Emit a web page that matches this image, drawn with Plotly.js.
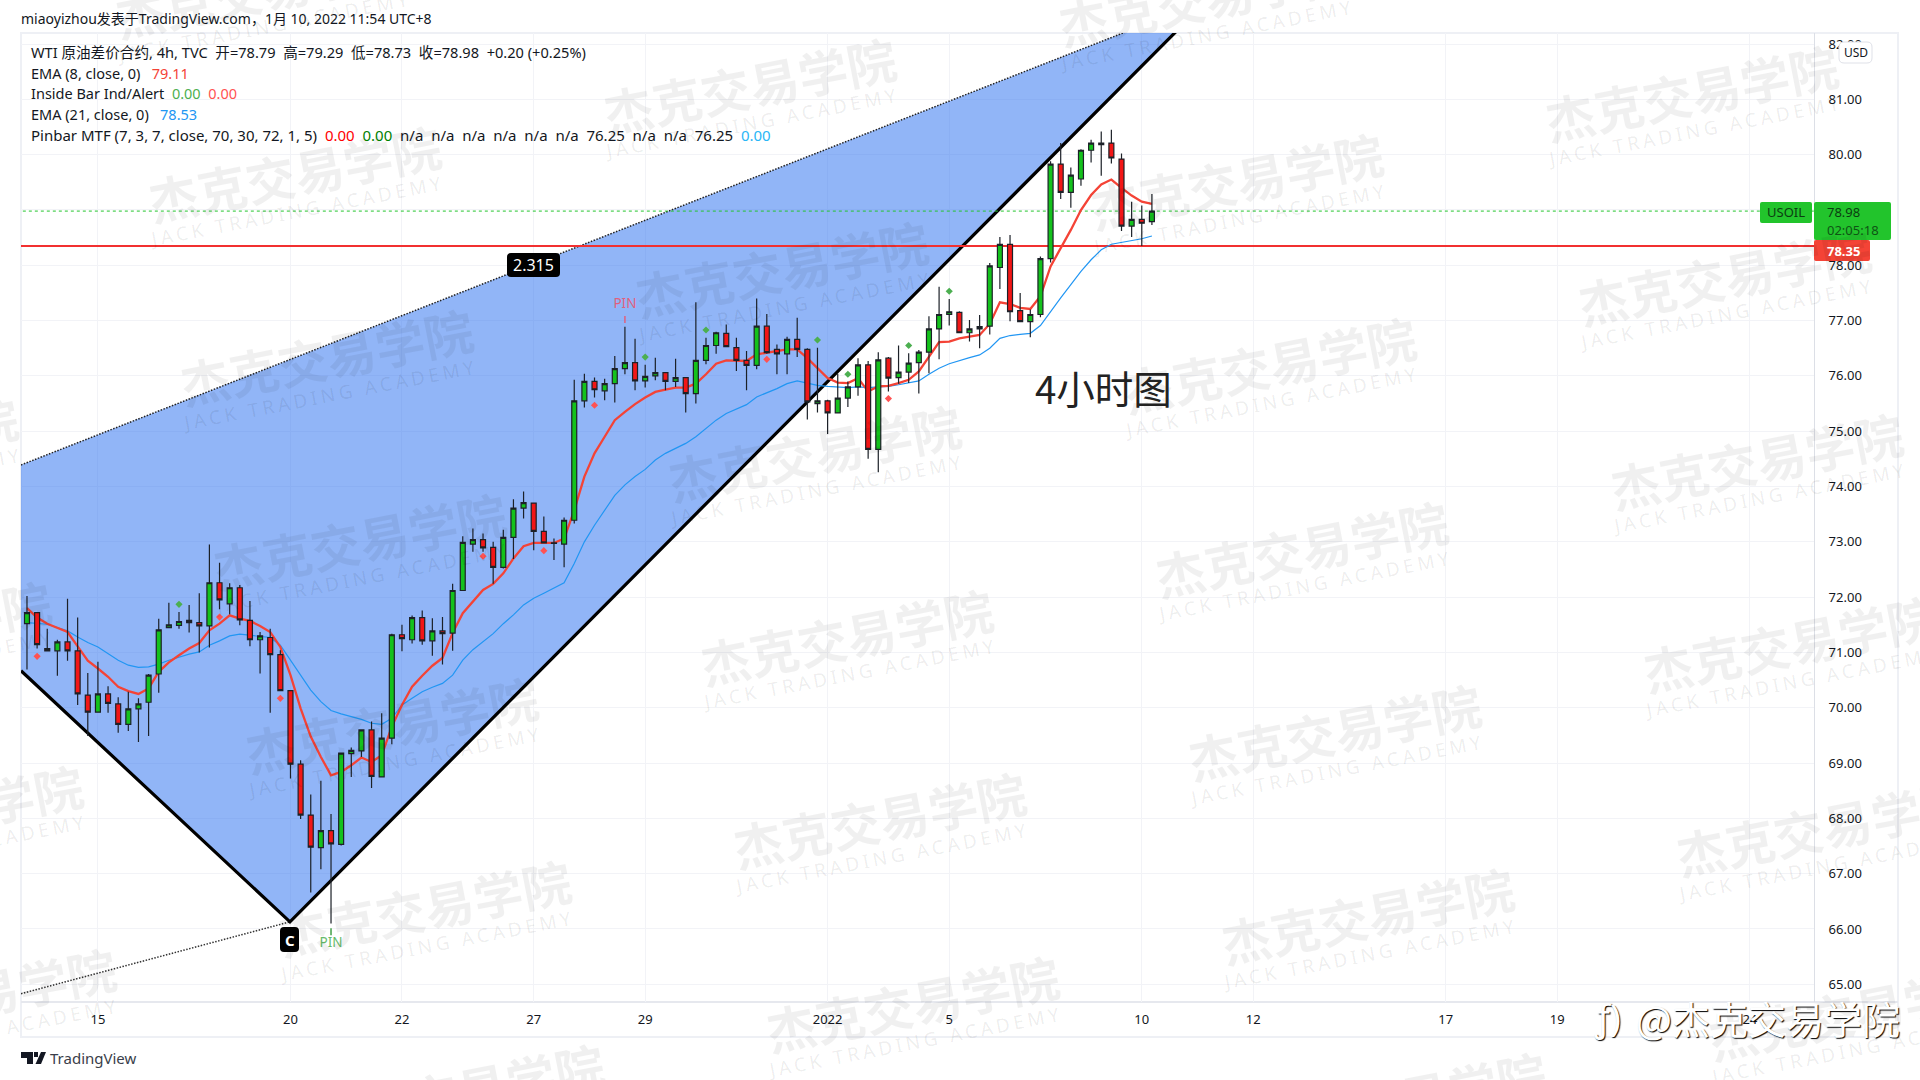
<!DOCTYPE html>
<html><head><meta charset="utf-8">
<script src="https://cdn.plot.ly/plotly-3.0.1.min.js"></script>
<style>html,body{margin:0;padding:0;background:#fff}#c{width:1920px;height:1080px}</style>
</head><body><div id="c"></div>
<script>
const open_=[71.52,71.72,71.07,71.03,71.19,71.03,70.23,69.92,70.25,70.07,69.70,69.98,70.10,70.61,71.45,71.49,71.58,71.54,71.48,72.26,71.88,72.17,71.58,71.23,71.27,70.96,70.31,68.98,68.06,67.47,67.78,67.53,69.17,69.22,69.60,68.75,69.45,71.32,71.23,71.63,71.21,71.39,71.35,72.12,72.96,73.04,72.90,72.54,73.08,73.61,73.70,73.19,72.98,72.96,73.39,75.55,75.90,75.73,75.86,76.13,76.24,75.91,76.00,76.06,75.90,75.97,75.68,76.28,76.55,76.77,76.51,76.28,76.19,76.90,76.48,76.40,76.66,76.48,75.50,75.55,75.33,75.60,75.80,76.20,74.67,76.32,75.97,76.07,76.24,76.43,76.85,77.11,77.15,76.78,76.85,76.90,77.96,78.38,77.18,76.98,77.11,78.12,79.83,79.32,79.56,80.08,80.21,80.21,79.92,78.71,78.83,78.79];
const high=[72.02,71.73,71.43,71.23,71.97,71.63,70.63,70.83,70.39,70.19,70.29,70.17,70.61,71.61,71.90,71.73,71.86,72.07,72.95,72.62,72.25,72.22,71.93,71.37,71.43,71.04,70.32,69.05,68.43,68.68,68.08,69.19,69.28,69.61,69.75,69.90,71.34,71.50,71.67,71.76,71.62,71.64,72.24,73.10,73.24,73.15,73.00,73.22,73.77,73.91,73.71,73.46,73.06,73.44,75.93,76.04,75.97,75.95,76.36,76.89,76.67,76.20,76.33,76.07,76.31,75.98,77.33,76.69,76.80,76.93,76.69,76.45,77.40,77.12,76.57,76.71,77.05,76.50,76.51,75.57,76.04,75.90,76.32,76.27,76.43,76.34,76.55,76.41,76.47,77.08,77.61,77.39,77.17,77.01,77.10,78.04,78.51,78.55,77.50,77.20,78.16,79.88,80.21,79.77,80.10,80.27,80.42,80.45,80.02,79.15,79.08,79.29];
const low=[70.69,71.07,71.02,70.58,70.85,70.05,69.49,69.91,69.91,69.55,69.58,69.38,69.49,70.27,71.44,71.43,71.36,71.00,71.09,71.78,71.69,71.49,71.11,70.62,69.91,70.31,68.72,67.99,66.66,67.08,66.10,67.51,68.75,69.11,68.55,68.74,69.34,71.02,71.16,71.14,70.94,70.78,71.03,72.12,72.82,72.82,72.24,72.52,72.69,73.42,72.85,72.97,72.67,72.54,73.33,75.43,75.61,75.56,75.52,76.03,75.74,75.79,75.92,75.74,75.80,75.34,75.50,76.21,76.40,76.52,76.09,75.74,76.12,76.40,76.03,76.03,76.34,75.21,75.34,74.95,75.33,75.44,75.64,74.50,74.26,75.72,75.86,75.87,75.68,76.05,76.30,76.91,76.77,76.62,76.50,76.75,77.57,76.99,76.97,76.70,77.06,78.05,79.20,79.04,79.44,79.86,79.62,79.84,78.62,78.51,78.35,78.73];
const close_=[71.72,71.14,71.03,71.19,71.03,70.25,69.92,70.25,70.08,69.70,69.98,70.07,70.59,71.41,71.50,71.56,71.54,71.48,72.26,71.95,72.17,71.59,71.23,71.30,70.96,70.31,68.98,68.06,67.48,67.78,67.54,69.18,69.23,69.60,68.76,69.45,71.32,71.25,71.63,71.21,71.39,71.34,72.12,72.99,73.04,72.89,72.54,73.08,73.61,73.71,73.19,72.98,72.97,73.39,75.55,75.90,75.75,75.86,76.13,76.24,75.91,75.99,76.06,75.90,75.97,75.68,76.28,76.55,76.78,76.53,76.28,76.19,76.90,76.42,76.40,76.66,76.48,75.53,75.55,75.33,75.60,75.80,76.20,74.67,76.29,75.96,76.07,76.23,76.43,76.85,77.11,77.16,76.78,76.85,76.89,77.99,78.38,77.16,76.98,77.11,78.12,79.83,79.32,79.63,80.08,80.21,80.18,79.94,78.71,78.83,78.76,78.98];
const ema8=[71.80,71.63,71.52,71.45,71.37,71.11,70.85,70.71,70.56,70.38,70.30,70.25,70.35,70.65,70.82,70.95,71.07,71.17,71.40,71.52,71.67,71.61,71.57,71.48,71.37,71.10,70.59,69.99,69.48,69.11,68.78,68.84,68.96,69.10,69.02,69.14,69.66,70.05,70.38,70.58,70.76,70.90,71.35,71.71,71.92,72.13,72.24,72.43,72.70,72.92,72.98,72.98,72.98,73.06,73.57,74.18,74.60,74.90,75.20,75.35,75.49,75.61,75.71,75.75,75.79,75.79,75.86,76.03,76.22,76.28,76.28,76.27,76.39,76.42,76.46,76.48,76.48,76.32,76.14,75.96,75.88,75.87,75.96,75.72,75.81,75.82,75.87,75.93,76.08,76.35,76.61,76.62,76.68,76.71,76.74,76.94,77.33,77.30,77.23,77.21,77.44,77.98,78.31,78.64,79.00,79.27,79.46,79.55,79.40,79.26,79.15,79.11];
const ema21=[71.54,71.52,71.51,71.45,71.39,71.28,71.18,71.10,70.98,70.86,70.77,70.73,70.74,70.79,70.86,70.92,70.97,71.01,71.13,71.21,71.30,71.33,71.31,71.30,71.27,71.13,70.86,70.59,70.32,70.11,69.95,69.89,69.84,69.79,69.72,69.70,69.81,70.05,70.17,70.29,70.37,70.44,70.59,70.86,71.05,71.19,71.34,71.52,71.68,71.86,71.98,72.07,72.16,72.26,72.61,73.00,73.30,73.57,73.84,74.03,74.18,74.31,74.48,74.60,74.69,74.78,74.90,75.05,75.20,75.32,75.40,75.48,75.62,75.69,75.77,75.86,75.91,75.87,75.83,75.81,75.80,75.79,75.80,75.79,75.80,75.81,75.84,75.87,75.91,76.03,76.14,76.22,76.28,76.33,76.38,76.50,76.68,76.73,76.75,76.77,76.91,77.17,77.41,77.65,77.89,78.10,78.28,78.38,78.41,78.44,78.48,78.53];
const barIdx=close_.map((_,i)=>i);
const tickIdx=[7,26,37,50,61,79,91,110,121,140,151,170];
const tickText=['15','20','22','27','29','2022','5','10','12','17','19','24'];
const priceTicks=[65,66,67,68,69,70,71,72,73,74,75,76,77,78,79,80,81,82];
const redDotX=[1,19,25,45,51,56,73,85];
const redDotY=[70.93,71.64,70.17,72.74,72.84,75.47,76.30,75.59];
const greenDotX=[15,61,67,78,81,87,91];
const greenDotY=[71.87,76.34,76.83,76.65,76.03,76.55,77.53];
const patternX=[-0.59,25.95,116.5,-0.59];
const patternY=[70.67,66.13,82.80,74.39];
const dottedX=[-0.59,25.95];
const dottedY=[64.83,66.13];
const lastPrice=78.98, supportPrice=78.35;
const pinUpX=[59], pinUpY=[77.02], pinUpLabelY=[77.28];
const pinDownX=[30], pinDownY=[65.95], pinDownLabelY=[65.73];

const W=1920,H=1080,L=21,R=1814,T=33,B=1002;
const XRANGE=[-0.59,176.33], YRANGE=[64.68,82.20];
const fx=p=>(p-L)/(R-L), fy=p=>(B-p)/(B-T);
const FONT='"Noto Sans","Noto Sans CJK SC",sans-serif';
const CJK='"Noto Sans CJK SC","Noto Sans",sans-serif';
const DARK='#131722';
const WM='rgba(0,0,0,0.058)';
const WM2='rgba(0,0,0,0.08)';
const sp=n=>'\u00a0'.repeat(n);
function ann(px,py,text,size,color,extra){
  return Object.assign({xref:'paper',yref:'paper',x:fx(px),y:fy(py),text:text,showarrow:false,xanchor:'left',yanchor:'middle',align:'left',
    font:{family:FONT,size:size,color:color}},extra||{});
}
function rr(x0,y0,x1,y1,r,color,line){
  const X=fx,Y=fy;
  const d=`M ${X(x0+r)} ${Y(y0)} L ${X(x1-r)} ${Y(y0)} Q ${X(x1)} ${Y(y0)} ${X(x1)} ${Y(y0+r)} L ${X(x1)} ${Y(y1-r)} Q ${X(x1)} ${Y(y1)} ${X(x1-r)} ${Y(y1)} L ${X(x0+r)} ${Y(y1)} Q ${X(x0)} ${Y(y1)} ${X(x0)} ${Y(y1-r)} L ${X(x0)} ${Y(y0+r)} Q ${X(x0)} ${Y(y0)} ${X(x0+r)} ${Y(y0)} Z`;
  return {type:'path',xref:'paper',yref:'paper',path:d,fillcolor:color,line:line||{width:0},layer:'above'};
}
function poly(pts,color){
  const d=pts.map((p,i)=>(i?'L ':'M ')+fx(p[0])+' '+fy(p[1])).join(' ')+' Z';
  return {type:'path',xref:'paper',yref:'paper',path:d,fillcolor:color,line:{width:0},layer:'above'};
}
function frame(x0,y0,x1,y1,c,w){
  return {type:'rect',xref:'paper',yref:'paper',x0:fx(x0),x1:fx(x1),y0:fy(y1),y1:fy(y0),line:{color:c,width:w},fillcolor:'rgba(0,0,0,0)',layer:'below'};
}

const traces=[
 {type:'scatter',mode:'lines',x:patternX,y:patternY,fill:'toself',fillcolor:'rgba(36,107,240,0.5)',line:{width:0},hoverinfo:'skip'},
 {type:'scatter',mode:'lines',x:[patternX[3],patternX[2]],y:[patternY[3],patternY[2]],line:{color:'#222',width:1.5,dash:'1.5px,1.5px'},hoverinfo:'skip'},
 {type:'scatter',mode:'lines',x:dottedX,y:dottedY,line:{color:'#333',width:1.5,dash:'1.5px,1.5px'},hoverinfo:'skip'},
 {type:'scatter',mode:'lines',x:[patternX[0],patternX[1],patternX[2]],y:[patternY[0],patternY[1],patternY[2]],line:{color:'#000',width:3.2},hoverinfo:'skip'},
 {type:'scatter',mode:'lines',x:[-1,177],y:[lastPrice,lastPrice],line:{color:'#22c42c',width:1,dash:'dot'},hoverinfo:'skip'},
 {type:'scatter',mode:'lines',x:[-1,177],y:[supportPrice,supportPrice],line:{color:'#f23030',width:2},hoverinfo:'skip'},
 {type:'scatter',mode:'lines',x:barIdx,y:ema21,line:{color:'#2196f3',width:1.2},hoverinfo:'skip'},
 {type:'scatter',mode:'lines',x:barIdx,y:ema8,line:{color:'#f44336',width:2.3},hoverinfo:'skip'},
 {type:'scatter',mode:'markers',x:redDotX,y:redDotY,marker:{symbol:'diamond',size:5.5,color:'#ff5252'},hoverinfo:'skip'},
 {type:'scatter',mode:'markers',x:greenDotX,y:greenDotY,marker:{symbol:'diamond',size:5.5,color:'#4caf50'},hoverinfo:'skip'},
 {type:'scatter',mode:'markers',x:pinUpX,y:pinUpY,marker:{symbol:'line-ns',size:5,line:{color:'#e0607e',width:1.5}},hoverinfo:'skip'},
 {type:'scatter',mode:'text',x:pinUpX,y:pinUpLabelY,text:['PIN'],textposition:'middle center',textfont:{family:FONT,size:13.5,color:'#e0607e'},hoverinfo:'skip'},
 {type:'scatter',mode:'markers',x:pinDownX,y:pinDownY,marker:{symbol:'line-ns',size:5,line:{color:'#43a047',width:1.5}},hoverinfo:'skip'},
 {type:'scatter',mode:'text',x:pinDownX,y:pinDownLabelY,text:['PIN'],textposition:'middle center',textfont:{family:FONT,size:13.5,color:'#66bb6a'},hoverinfo:'skip'},
 {type:'candlestick',xaxis:'x2',yaxis:'y2',x:barIdx,open:open_,high:high,low:low,close:close_,whiskerwidth:0,
  increasing:{line:{color:'#1c2128',width:1.2},fillcolor:'#14c21c'},
  decreasing:{line:{color:'#1c2128',width:1.2},fillcolor:'#f21616'},hoverinfo:'skip'}
];

const annotations=[];
for(let m=-3;m<=3;m++)for(let n=-2;n<=6;n++){
  const cx=749+455*m+32.6*n, cy=84-88*m+183.7*n;
  if(cx<-180||cx>2100||cy<-60||cy>1140)continue;
  annotations.push(ann(cx,cy,'<b>杰克交易学院</b>',49.5,WM,{xanchor:'center',textangle:-11,font:{family:CJK,size:49.5,color:WM}}));
  annotations.push(ann(cx+3,cy+39,'<span style="letter-spacing:3.8px">JACK TRADING ACADEMY</span>',19,WM2,{xanchor:'center',textangle:-11}));
}
annotations.push(ann(19,18,'miaoyizhou发表于TradingView.com，1月 10, 2022 11:54 UTC+8',14,DARK));
const c=(t,col)=>`<span style="color:${col}">${t}</span>`;
annotations.push(ann(29,52,['WTI 原油差价合约, 4h, TVC','开=78.79','高=79.29','低=78.73','收=78.98','+0.20 (+0.25%)'].join(sp(2)),14.6,DARK));
annotations.push(ann(29,73,'EMA (8, close, 0)'+sp(3)+c('79.11','#f44336'),14.5,DARK));
annotations.push(ann(29,93,'Inside Bar Ind/Alert'+sp(2)+c('0.00','#4caf50')+sp(2)+c('0.00','#ff5252'),14.5,DARK));
annotations.push(ann(29,114,'EMA (21, close, 0)'+sp(3)+c('78.53','#2196f3'),14.5,DARK));
annotations.push(ann(29,135,['Pinbar MTF (7, 3, 7, close, 70, 30, 72, 1, 5)',c('0.00','#ff0000'),c('0.00','#008000'),'n/a','n/a','n/a','n/a','n/a','n/a','76.25','n/a','n/a','76.25',c('0.00','#29b6f6')].join(sp(2)),15,DARK));
annotations.push(ann(533.5,265,'2.315',16,'#fff',{xanchor:'center'}));
annotations.push(ann(289.5,939.5,'<b>C</b>',15,'#fff',{xanchor:'center'}));
annotations.push(ann(1033,387,'4小时图',38.5,'#222',{font:{family:CJK,size:38.5,color:'#222'}}));
annotations.push(ann(1786,212.5,'USOIL',13,'#0b3d10',{xanchor:'center'}));
annotations.push(ann(1825,212,'78.98',13,'#0b3d10'));
annotations.push(ann(1825,230,'02:05:18',13,'#0f5415'));
annotations.push(ann(1825,250.5,'<b>78.35</b>',13,'#fff'));
annotations.push(ann(1855.5,52.5,'USD',12,DARK,{xanchor:'center'}));
annotations.push(ann(48,1058,'TradingView',15,'#3a3e4a'));
annotations.push(ann(1592,1018,'ƒ)',36,'#fff',{font:{family:FONT,size:36,color:'#fff',shadow:'1px 1px 1px #000'}}));
annotations.push(ann(1634,1018,'@杰克交易学院',38,'#fff',{font:{family:CJK,size:38,color:'#fff',shadow:'1px 1px 1px #000'}}));

const shapes=[
 frame(L,T,1898,1037,'#eef0f5',2),
 {type:'line',xref:'paper',yref:'paper',x0:fx(21),x1:fx(1898),y0:0,y1:0,line:{color:'#e6e8ee',width:2},layer:'below'},
 rr(507,253,560,277,4,'#000'),
 rr(280,927,299,952,4,'#000'),
 rr(1760,202,1812,223,2,'#22c42c'),
 rr(1814,202,1891,240,2,'#22c42c'),
 rr(1814,240,1870,261,2,'#f44336'),
 rr(1839,42,1872,63,5,'#fff',{color:'#dfe1e8',width:1}),
 poly([[21,1052],[33,1052],[33,1064],[27,1064],[27,1058],[21,1058]],'#131722'),
 poly([[34,1052],[38,1052],[38,1057],[34,1057]],'#131722'),
 poly([[41,1052],[46,1052],[41,1064],[35.5,1064]],'#131722')
];

const layout={
 width:W,height:H,margin:{l:L,r:W-R,t:T,b:H-B,pad:0},
 paper_bgcolor:'#fff',plot_bgcolor:'#fff',showlegend:false,dragmode:false,
 font:{family:FONT,size:13,color:DARK},
 xaxis:{type:'linear',range:XRANGE,tickmode:'array',tickvals:tickIdx,ticktext:tickText,showgrid:true,gridcolor:'#f2f3f7',gridwidth:1,zeroline:false,
   showline:false,ticks:'',ticklabelstandoff:8,tickfont:{family:FONT,size:13,color:DARK},rangeslider:{visible:false},fixedrange:true},
 yaxis:{side:'right',type:'linear',range:YRANGE,tickmode:'array',tickvals:priceTicks,ticktext:priceTicks.map(v=>v.toFixed(2)),showgrid:true,gridcolor:'#f2f3f7',gridwidth:1,zeroline:false,
   showline:true,linecolor:'#dcdfe6',linewidth:1,ticks:'',ticklabelstandoff:11,tickfont:{family:FONT,size:13,color:DARK},fixedrange:true},
 xaxis2:{overlaying:'x',type:'linear',range:XRANGE,visible:false,rangeslider:{visible:false},fixedrange:true},
 yaxis2:{overlaying:'y',side:'right',type:'linear',range:YRANGE,visible:false,fixedrange:true},
 annotations:annotations,shapes:shapes
};
Plotly.newPlot('c',traces,layout,{displayModeBar:false,staticPlot:true});
</script></body></html>
